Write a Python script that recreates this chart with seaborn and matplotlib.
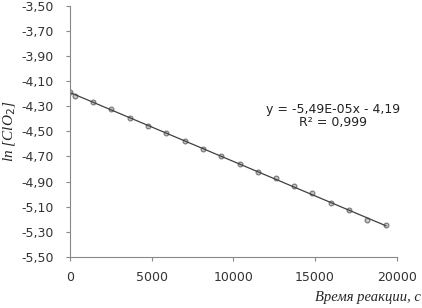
import numpy as np
import pandas as pd
import seaborn as sns
import matplotlib.pyplot as plt
from matplotlib.ticker import FuncFormatter

# reaction time, s and ln[ClO2]
time_s = [0, 300, 1400, 2500, 3650, 4800, 5900, 7050, 8150, 9250,
          10400, 11500, 12600, 13700, 14800, 16000, 17100, 18200, 19350]
ln_clo2 = [-4.19, -4.22, -4.265, -4.325, -4.39, -4.455, -4.515, -4.575, -4.64, -4.70,
           -4.76, -4.82, -4.875, -4.935, -4.995, -5.07, -5.13, -5.21, -5.25]
y_ticks = [-3.5, -3.7, -3.9, -4.1, -4.3, -4.5, -4.7, -4.9, -5.1, -5.3, -5.5]
x_ticks = [0, 5000, 10000, 15000, 20000]

df = pd.DataFrame({"t": time_s, "ln": ln_clo2})

sns.set_style("white")
plt.rcParams['font.family'] = ['DejaVu Sans']

fig = plt.figure(figsize=(4.22, 3.08), dpi=100)
ax = fig.add_axes([0.166, 0.166, 0.774, 0.815])

sns.regplot(data=df, x="t", y="ln", ci=None, ax=ax,
            scatter_kws=dict(s=12, facecolor="#b8b8b8", edgecolor="#5a5a5a", linewidths=0.8),
            line_kws=dict(color="#404040", lw=0.9))

ax.set_xlim(0, 20000)
ax.set_ylim(-5.5, -3.5)
ax.set_xticks(x_ticks)
ax.set_yticks(y_ticks)
ax.yaxis.set_major_formatter(FuncFormatter(lambda v, p: f"{v:.2f}".replace(".", ",")))
ax.tick_params(axis="both", labelsize=9, colors="#333333", length=3, direction="out",
               left=True, bottom=True, color="#888888")
ax.tick_params(axis="y", pad=9)
ax.tick_params(axis="x", pad=7)
for s in ["top", "right"]:
    ax.spines[s].set_visible(False)
for s in ["left", "bottom"]:
    ax.spines[s].set_color("#888888")
    ax.spines[s].set_linewidth(0.8)

ax.set_xlabel("")
ax.set_ylabel("ln [ClO$_2$]", fontsize=11, family="Liberation Serif", style="italic")
ax.yaxis.set_label_coords(-0.16, 0.5)
fig.text(0.997, 0.012, "Время реакции, с", ha="right", va="bottom",
         fontsize=10.5, family="Liberation Serif", style="italic")

ax.text(0.805, 0.586, "y = -5,49E-05x - 4,19", transform=ax.transAxes,
        ha="center", va="center", fontsize=9, color="#222222")
ax.text(0.805, 0.534, "R² = 0,999", transform=ax.transAxes,
        ha="center", va="center", fontsize=9, color="#222222")

fig.savefig("out.png", dpi=100)
